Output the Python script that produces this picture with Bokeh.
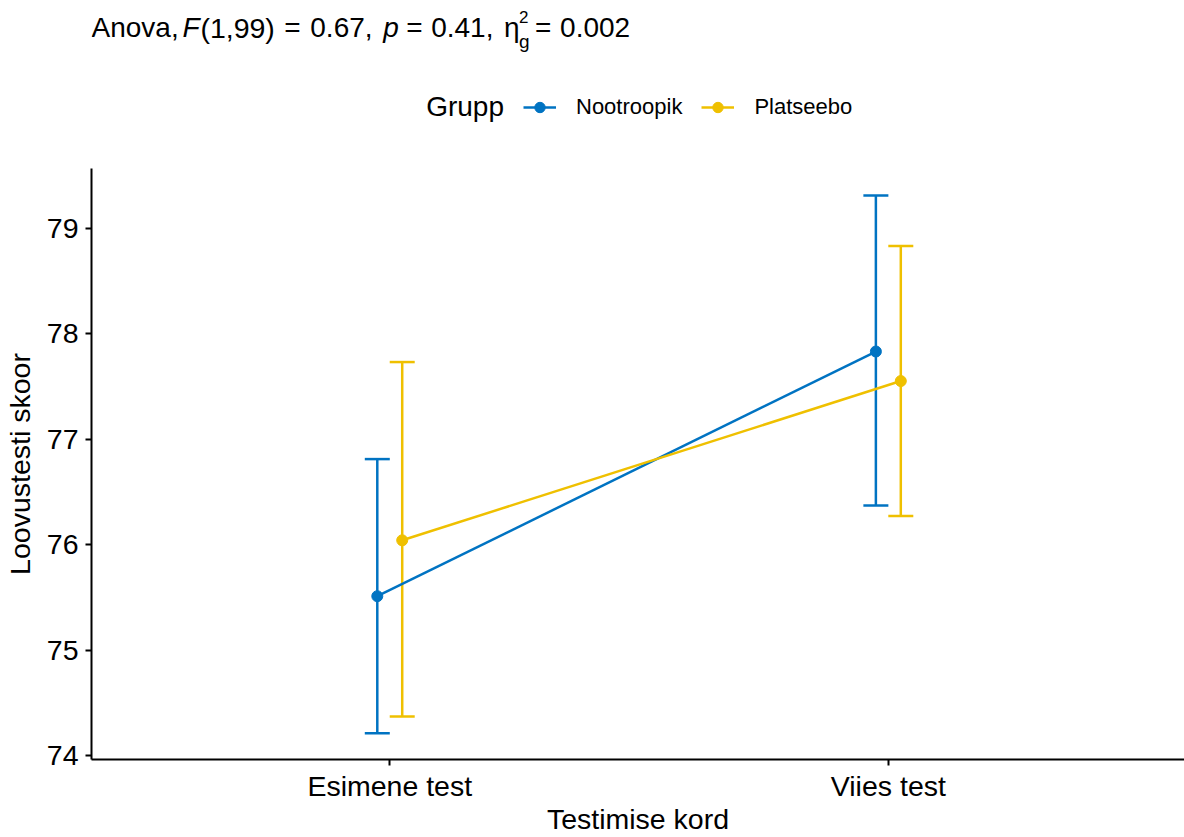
from bokeh.plotting import figure
from bokeh.layouts import column
from bokeh.models import (ColumnDataSource, Whisker, TeeHead, Legend, LegendItem,
                          FixedTicker, CustomJSTickFormatter)
from bokeh.core.properties import value
from bokeh.embed import file_html
from bokeh.resources import INLINE

# ---- data ----
categories = ["Esimene test", "Viies test"]
groups = ["Nootroopik", "Platseebo"]
colors = ["#0073C2", "#EFC000"]
nootroopik_mean = [75.51, 77.83]
nootroopik_lower = [74.21, 76.37]
nootroopik_upper = [76.81, 79.31]
platseebo_mean = [76.04, 77.55]
platseebo_lower = [74.37, 76.27]
platseebo_upper = [77.73, 78.83]
y_ticks = [74, 75, 76, 77, 78, 79]
x_label = "Testimise kord"
y_label = "Loovustesti skoor"
legend_title = "Grupp"

FONT = "Liberation Sans"
W, H_HEAD, H_MAIN = 1184, 168, 669
LEFT = 90

# ================= header (title + legend) =================
# header frame is aligned with the main frame (starts at x = LEFT), so data x == page x
head = figure(width=W, height=H_HEAD, x_range=(LEFT, W), y_range=(H_HEAD, 0),
              output_backend="svg", toolbar_location=None,
              x_axis_type=None, y_axis_type=None,
              min_border_left=LEFT, min_border_right=0, min_border_top=0, min_border_bottom=0)
head.xgrid.visible = False
head.ygrid.visible = False
head.outline_line_color = None

def bl(y, size):
    # compensate Bokeh's text-glyph baseline placement
    return y - 0.4 * size

pieces = [
    ("Anova,", 90, 38.5, 28, "normal"),
    ("F", 181, 38.5, 28, "italic"),
    ("(1,99)", 199, 38.5, 28.5, "normal"),
    ("=", 283, 38.5, 28, "normal"),
    ("0.67,", 309, 38.5, 28, "normal"),
    ("p", 382, 38.5, 28, "italic"),
    ("=", 405, 38.5, 28, "normal"),
    ("0.41,", 430, 38.5, 28, "normal"),
    ("\u03b7", 503, 38.5, 28, "normal"),
    ("g", 518, 48.5, 19, "normal"),
    ("2", 518, 23, 17, "normal"),
    ("=", 534, 38.5, 28, "normal"),
    ("0.002", 559, 38.5, 28, "normal"),
]
for txt, x, y, size, style in pieces:
    head.text(x=[x], y=[bl(y, size)], text=[txt], text_font=value(FONT),
              text_font_size=f"{size}px", text_font_style=style, text_color="black",
              text_baseline="alphabetic", text_align="left")

head.text(x=[425], y=[bl(117, 28)], text=[legend_title], text_font=value(FONT),
          text_font_size="28px", text_color="black",
          text_baseline="alphabetic", text_align="left")

nan = float("nan")
h_items = []
for name, col in zip(groups, colors):
    proxy = ColumnDataSource(dict(x=[nan], y=[nan]))
    hl = head.line("x", "y", source=proxy, line_color=col, line_width=2.5)
    hs = head.scatter("x", "y", source=proxy, size=11, fill_color=col, line_color=col)
    h_items.append(LegendItem(label=name, renderers=[hl, hs]))
legend = Legend(items=h_items, orientation="horizontal", location=(522 - LEFT, 48),
                label_text_font=FONT, label_text_font_size="22px", label_text_color="black",
                glyph_width=33, glyph_height=26, label_height=26, label_standoff=20, spacing=19,
                padding=0, margin=0, border_line_color=None, background_fill_alpha=0)
head.add_layout(legend)

# ================= main plot =================
p = figure(width=W, height=H_MAIN, x_range=(0.4018, 2.594), y_range=(73.962, 79.565),
           output_backend="svg", toolbar_location=None,
           min_border_left=LEFT, min_border_right=0, min_border_top=0, min_border_bottom=74)
p.xgrid.visible = False
p.ygrid.visible = False
p.outline_line_color = None

p.xaxis.ticker = FixedTicker(ticks=[i + 1 for i in range(len(categories))])
p.xaxis.formatter = CustomJSTickFormatter(args=dict(cats=categories),
                                          code="const i = Math.round(tick) - 1; return cats[i] || '';")
p.yaxis.ticker = FixedTicker(ticks=y_ticks)
p.xaxis.axis_label = x_label
p.yaxis.axis_label = y_label
for ax in [p.xaxis[0], p.yaxis[0]]:
    ax.axis_line_width = 2
    ax.axis_line_color = "black"
    ax.major_tick_line_width = 2
    ax.major_tick_line_color = "black"
    ax.major_tick_out = 6
    ax.major_tick_in = 0
    ax.minor_tick_line_color = None
    ax.major_label_text_font = FONT
    ax.major_label_text_font_size = "28.5px"
    ax.major_label_text_color = "black"
    ax.axis_label_text_font = FONT
    ax.axis_label_text_font_size = "28.5px"
    ax.axis_label_text_font_style = "normal"
    ax.axis_label_text_color = "black"
p.xaxis.major_label_standoff = 4
p.xaxis.axis_label_standoff = -2
p.yaxis.major_label_standoff = 7
p.yaxis.axis_label_standoff = 8

series = [
    (nootroopik_mean, nootroopik_lower, nootroopik_upper),
    (platseebo_mean, platseebo_lower, platseebo_upper),
]
dodge = [-0.025, 0.025]
for gi, (name, col, (m, lo, hi)) in enumerate(zip(groups, colors, series)):
    xs = [k + 1 + dodge[gi] for k in range(len(categories))]
    src = ColumnDataSource(dict(x=xs, mean=m, lower=lo, upper=hi))
    w = Whisker(source=src, base="x", upper="upper", lower="lower", dimension="height",
                line_color=col, line_width=2.5,
                upper_head=TeeHead(size=25, line_color=col, line_width=2.5),
                lower_head=TeeHead(size=25, line_color=col, line_width=2.5))
    p.add_layout(w)
    p.line("x", "mean", source=src, line_color=col, line_width=2.5)
    p.scatter("x", "mean", source=src, size=11, fill_color=col, line_color=col)

layout = column(head, p, spacing=0)
open("out.html", "w").write(file_html(layout, INLINE))
